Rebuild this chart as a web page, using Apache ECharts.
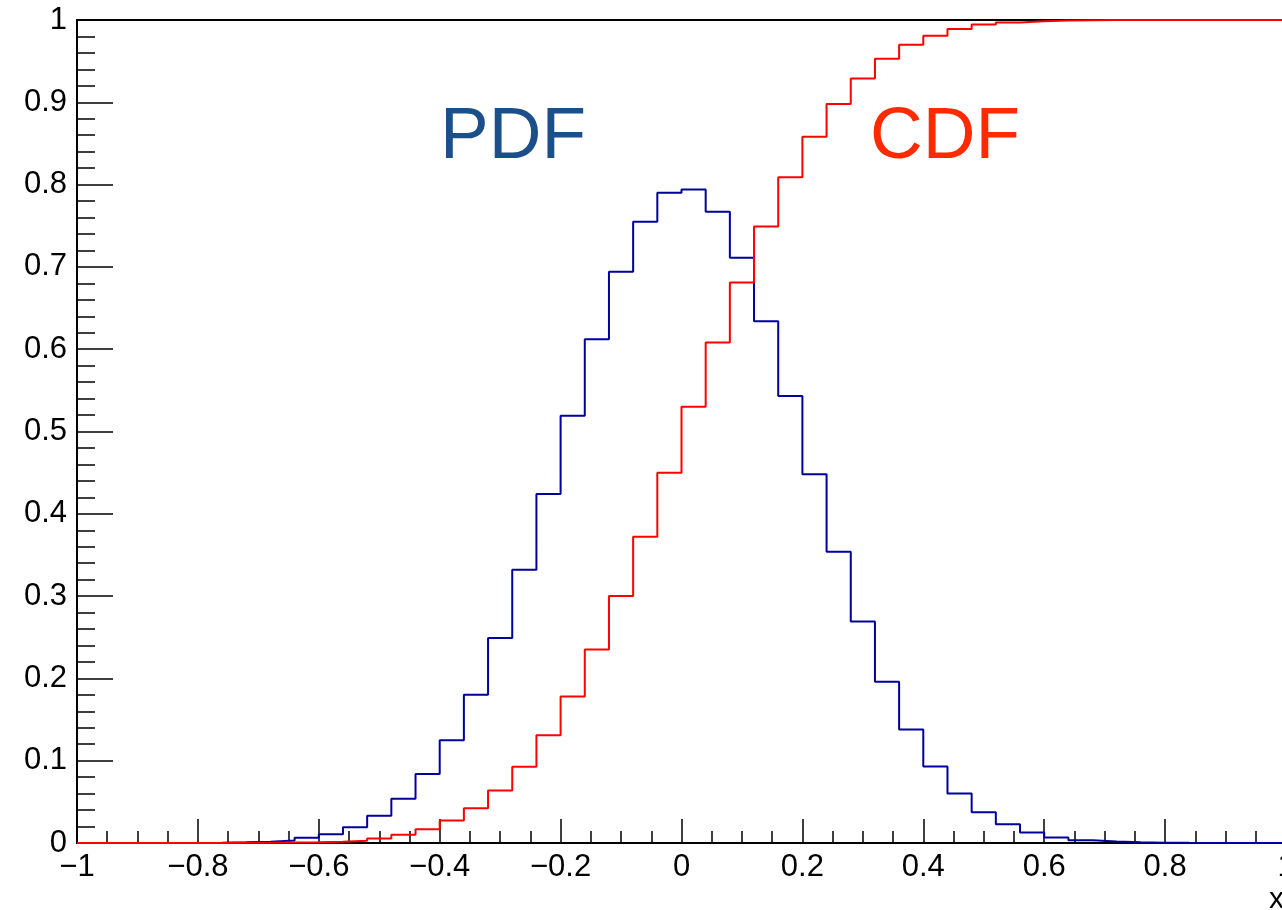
<!DOCTYPE html>
<html>
<head>
<meta charset="utf-8">
<script src="https://cdn.jsdelivr.net/npm/echarts@6/dist/echarts.min.js"></script>
<style>
html,body{margin:0;padding:0;background:#fff;}
#chart{width:1282px;height:910px;}
</style>
</head>
<body>
<div id="chart"></div>
<script>
// Histogram binning: 50 bins of width 0.04 between -1 and 1
const xMin = -1;
const xMax = 1;
const binWidth = 0.04;

// PDF histogram content per bin (left to right)
const pdfValues = [
  0, 0, 0, 0, 0.0001, 0.0003, 0.0008, 0.0015, 0.003, 0.0063,
  0.0107, 0.0192, 0.033, 0.0537, 0.0837, 0.125, 0.180, 0.249, 0.332, 0.424,
  0.519, 0.612, 0.694, 0.755, 0.790, 0.794, 0.767, 0.711, 0.634, 0.543,
  0.448, 0.354, 0.269, 0.196, 0.138, 0.093, 0.060, 0.0375, 0.0229, 0.0128,
  0.0067, 0.0034, 0.0018, 0.0009, 0.0004, 0.0002, 0.0001, 0, 0, 0
];

// CDF histogram content per bin (left to right)
const cdfValues = [
  0, 0, 0, 0, 0, 0.0001, 0.0002, 0.0003, 0.0005, 0.0008,
  0.0015, 0.0027, 0.0055, 0.010, 0.0168, 0.0273, 0.0423, 0.0638, 0.0926, 0.131,
  0.178, 0.235, 0.300, 0.372, 0.450, 0.530, 0.608, 0.681, 0.749, 0.809,
  0.858, 0.898, 0.929, 0.953, 0.970, 0.981, 0.989, 0.9945, 0.997, 0.9985,
  0.9993, 0.9997, 0.9999, 1, 1, 1, 1, 1, 1, 1
];

const yTickInterval = 0.1;
const xTickInterval = 0.2;
const labels = { pdf: 'PDF', cdf: 'CDF', xTitle: 'x' };

function stepData(values) {
  const pts = [];
  for (let i = 0; i < values.length; i++) {
    const left = +(xMin + i * binWidth).toFixed(4);
    pts.push([left, values[i]]);
  }
  pts.push([xMax, values[values.length - 1]]);
  return pts;
}

const chart = echarts.init(document.getElementById('chart'), null, { renderer: 'canvas' });
const FONT = '"Liberation Sans", Arial, Helvetica, sans-serif';

chart.setOption({
  animation: false,
  backgroundColor: '#ffffff',
  grid: {
    left: 77, width: 1209, top: 20, height: 823,
    containLabel: false, outerBoundsMode: 'none',
    show: true, borderColor: '#000', borderWidth: 2, backgroundColor: 'transparent'
  },
  xAxis: {
    type: 'value', min: xMin, max: xMax, interval: xTickInterval,
    axisLine: { show: true, onZero: false, lineStyle: { color: '#000', width: 2 } },
    axisTick: { show: true, inside: true, length: 24, lineStyle: { color: '#000', width: 1.5 } },
    minorTick: { show: true, splitNumber: 4, length: 12, lineStyle: { color: '#000', width: 1.5 } },
    splitLine: { show: false },
    axisLabel: {
      margin: 9, color: '#000', fontSize: 31, fontFamily: FONT,
      formatter: function (v) { return String(+v.toFixed(2)).replace('-', '\u2212'); }
    }
  },
  yAxis: {
    type: 'value', min: 0, max: 1, interval: yTickInterval,
    axisLine: { show: true, onZero: false, lineStyle: { color: '#000', width: 2 } },
    axisTick: { show: true, inside: true, length: 36, lineStyle: { color: '#000', width: 1.5 } },
    minorTick: { show: true, splitNumber: 5, length: 18, lineStyle: { color: '#000', width: 1.5 } },
    splitLine: { show: false },
    axisLabel: {
      margin: 10, color: '#000', fontSize: 31, fontFamily: FONT,
      formatter: function (v) { return String(+v.toFixed(2)); }
    }
  },
  series: [
    {
      name: labels.pdf, type: 'line', step: 'end', symbol: 'none',
      data: stepData(pdfValues),
      lineStyle: { color: '#00009a', width: 2 }, z: 3
    },
    {
      name: labels.cdf, type: 'line', step: 'end', symbol: 'none',
      data: stepData(cdfValues),
      lineStyle: { color: '#ff0000', width: 2 }, z: 4
    }
  ],
  graphic: [
    { type: 'text', left: 440, top: 101, style: { text: labels.pdf, fill: '#1b4f8a', font: '73px ' + FONT } },
    { type: 'text', left: 870, top: 101, style: { text: labels.cdf, fill: '#ff2a00', font: '73px ' + FONT } },
    { type: 'text', left: 1269, top: 885, style: { text: labels.xTitle, fill: '#000', font: '30px ' + FONT } }
  ]
});
</script>
</body>
</html>
